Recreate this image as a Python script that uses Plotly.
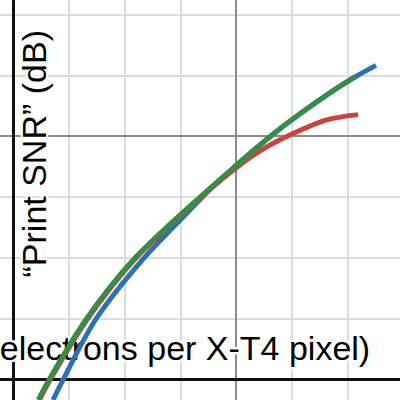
import plotly.graph_objects as go

# Axis geometry in "grid units" (minor grid = 1 unit)
X_RANGE = [-0.2434, 6.938]
Y_RANGE = [-0.341, 6.247]

# Series (grid units)
green_x = [0.444, 0.642, 1.310, 2.162, 3.347, 4.006, 4.604, 5.143, 5.740, 6.130]
green_y = [-0.341, 0.0, 0.998, 1.981, 3.002, 3.530, 3.995, 4.372, 4.754, 4.979]

red_x = [0.464, 0.662, 1.330, 2.180, 3.365, 4.006, 4.514, 4.999, 5.609, 6.184]
red_y = [-0.341, 0.0, 0.998, 1.981, 3.000, 3.490, 3.810, 4.040, 4.270, 4.359]

blue_x = [0.708, 0.893, 1.480, 2.324, 2.988, 3.617, 4.006, 4.604, 5.143, 5.740, 6.130, 6.507]
blue_y = [-0.341, 0.0, 0.993, 1.981, 2.620, 3.209, 3.530, 3.995, 4.372, 4.754, 4.979, 5.171]

y_label = "“Print SNR” (dB)"
x_label = "electrons per X-T4 pixel)"

BLUE = "#2d70b3"
RED = "#c74440"
GREEN = "#388c46"
FONT = "Liberation Sans, Arial, sans-serif"

fig = go.Figure()

halo = ("2px 0 1px white, -2px 0 1px white, 0 2px 1px white, 0 -2px 1px white, "
        "2px 2px 1px white, -2px -2px 1px white, 2px -2px 1px white, -2px 2px 1px white")

# x label as text trace so the curves sit on top of it
fig.add_trace(go.Scatter(
    x=[3.078], y=[0.46], mode="text", text=[x_label],
    textposition="middle center",
    textfont=dict(family=FONT, size=34, color="black", shadow=halo),
    hoverinfo="skip", showlegend=False, cliponaxis=False))

for xs, ys, col in [(blue_x, blue_y, BLUE), (red_x, red_y, RED), (green_x, green_y, GREEN)]:
    fig.add_trace(go.Scatter(x=xs, y=ys, mode="lines",
                             line=dict(color=col, width=5, shape="spline", smoothing=0.9),
                             hoverinfo="skip", showlegend=False))

axis_common = dict(
    showticklabels=False, ticks="", showline=False,
    dtick=4, tick0=0, showgrid=True, gridcolor="#8c8c8c", gridwidth=1.5,
    zeroline=True, zerolinecolor="#111111", zerolinewidth=2.5,
    minor=dict(dtick=1, tick0=0, showgrid=True, gridcolor="#dcdcdc", gridwidth=1.5),
    fixedrange=True,
)
fig.update_xaxes(range=X_RANGE, **axis_common)
fig.update_yaxes(range=Y_RANGE, **axis_common)

fig.add_annotation(
    x=33 / 400, y=1 - 154.5 / 400, xref="paper", yref="paper",
    text=y_label, textangle=-90, showarrow=False,
    xanchor="center", yanchor="middle",
    font=dict(family=FONT, size=34, color="black", shadow=halo))

fig.update_layout(
    width=400, height=400,
    margin=dict(l=0, r=0, t=0, b=0),
    paper_bgcolor="white", plot_bgcolor="white",
    showlegend=False,
)

fig.write_html("out.html", config={"displayModeBar": False},
               post_script="document.body.style.margin='0';document.body.style.overflow='hidden';")
